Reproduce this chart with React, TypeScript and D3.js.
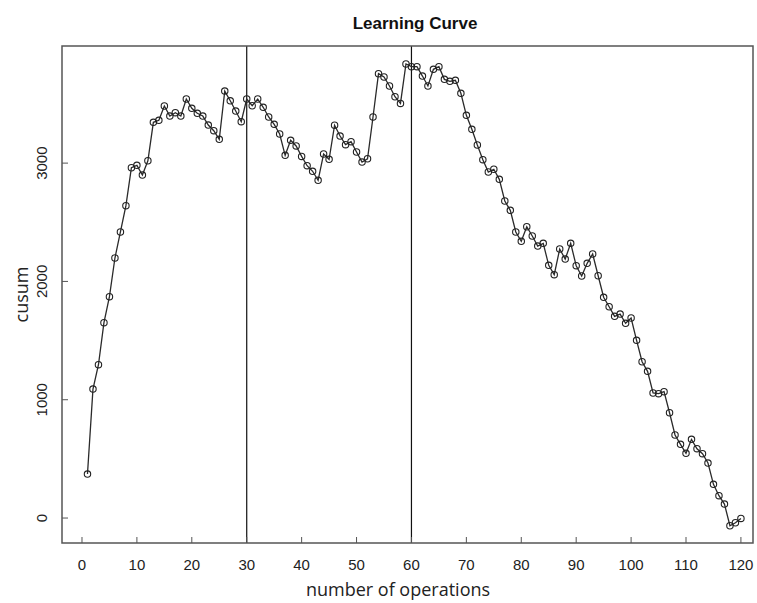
import React, { useEffect, useRef } from 'react';
import * as d3 from 'd3';

// cusum value for operation 1..120
const cusum = [
  372, 1090, 1296, 1651, 1871, 2198, 2418, 2640, 2961, 2981,
  2899, 3020, 3345, 3362, 3483, 3398, 3426, 3398, 3542, 3463,
  3421, 3398, 3322, 3274, 3201, 3609, 3527, 3440, 3350, 3542,
  3485, 3542, 3472, 3390, 3328, 3246, 3066, 3193, 3145, 3057,
  2978, 2931, 2855, 3077, 3032, 3320, 3229, 3156, 3181, 3094,
  3009, 3037, 3390, 3756, 3728, 3652, 3561, 3505, 3838, 3815,
  3815, 3736, 3652, 3793, 3815, 3708, 3691, 3700, 3590, 3404,
  3286, 3153, 3029, 2925, 2948, 2863, 2680, 2601, 2418, 2339,
  2462, 2384, 2299, 2322, 2136, 2057, 2274, 2189, 2322, 2133,
  2046, 2153, 2232, 2048, 1866, 1786, 1705, 1724, 1646, 1691,
  1502, 1321, 1240, 1057, 1051, 1068, 890, 702, 623, 547,
  665, 586, 544, 465, 285, 189, 118, -65, -40, -3,
];
const xTicks = [0, 10, 20, 30, 40, 50, 60, 70, 80, 90, 100, 110, 120];
const yTicks = [0, 1000, 2000, 3000];
const cutPoints = [30, 60];

const W = 757;
const H = 603;

const LearningCurve = () => {
  const ref = useRef(null);

  useEffect(() => {
    document.body.style.margin = '0';
    const svg = d3.select(ref.current);
    svg.selectAll('*').remove();
    svg.attr('width', W).attr('height', H);

    const left = 62, right = 753, top = 46, bottom = 543;
    const x = d3.scaleLinear().domain([-3.64, 122.2]).range([left, right]);
    const y = d3.scaleLinear().domain([-211, 3990]).range([bottom, top]);

    const data = cusum.map((v, i) => ({ n: i + 1, v }));

    svg
      .append('text')
      .attr('x', 415)
      .attr('y', 29)
      .attr('text-anchor', 'middle')
      .attr('font-family', 'Liberation Sans, Arial, sans-serif')
      .attr('font-weight', 'bold')
      .attr('font-size', 17)
      .attr('fill', '#111')
      .text('Learning Curve');

    // cut-off lines
    svg
      .selectAll('line.cut')
      .data(cutPoints)
      .enter()
      .append('line')
      .attr('class', 'cut')
      .attr('x1', (d) => x(d))
      .attr('x2', (d) => x(d))
      .attr('y1', top)
      .attr('y2', bottom)
      .attr('stroke', '#111')
      .attr('stroke-width', 1.2);

    const line = d3
      .line()
      .x((d) => x(d.n))
      .y((d) => y(d.v));

    svg
      .append('path')
      .datum(data)
      .attr('d', line)
      .attr('fill', 'none')
      .attr('stroke', '#2a2a2a')
      .attr('stroke-width', 1.3);

    svg
      .selectAll('circle')
      .data(data)
      .enter()
      .append('circle')
      .attr('cx', (d) => x(d.n))
      .attr('cy', (d) => y(d.v))
      .attr('r', 3.2)
      .attr('fill', 'none')
      .attr('stroke', '#222')
      .attr('stroke-width', 1.1);

    // frame
    svg
      .append('rect')
      .attr('x', left)
      .attr('y', top)
      .attr('width', right - left)
      .attr('height', bottom - top)
      .attr('fill', 'none')
      .attr('stroke', '#555')
      .attr('stroke-width', 1.5);

    // ticks point into the plot
    svg
      .selectAll('line.xt')
      .data(xTicks)
      .enter()
      .append('line')
      .attr('class', 'xt')
      .attr('x1', (d) => x(d))
      .attr('x2', (d) => x(d))
      .attr('y1', bottom)
      .attr('y2', bottom - 6)
      .attr('stroke', '#555');

    svg
      .selectAll('text.xt')
      .data(xTicks)
      .enter()
      .append('text')
      .attr('class', 'xt')
      .attr('x', (d) => x(d))
      .attr('y', 570)
      .attr('text-anchor', 'middle')
      .attr('font-family', 'Liberation Sans Narrow, Liberation Sans, sans-serif')
      .attr('font-size', 15)
      .attr('fill', '#222')
      .text((d) => d);

    svg
      .selectAll('line.yt')
      .data(yTicks)
      .enter()
      .append('line')
      .attr('class', 'yt')
      .attr('x1', left)
      .attr('x2', left + 6)
      .attr('y1', (d) => y(d))
      .attr('y2', (d) => y(d))
      .attr('stroke', '#555');

    svg
      .selectAll('text.yt')
      .data(yTicks)
      .enter()
      .append('text')
      .attr('class', 'yt')
      .attr('transform', (d) => `translate(47,${y(d)}) rotate(-90)`)
      .attr('text-anchor', 'middle')
      .attr('font-family', 'Liberation Sans Narrow, Liberation Sans, sans-serif')
      .attr('font-size', 15)
      .attr('fill', '#222')
      .text((d) => d);

    svg
      .append('text')
      .attr('x', 398)
      .attr('y', 596)
      .attr('text-anchor', 'middle')
      .attr('font-family', 'Open Sans, Noto Sans, sans-serif')
      .attr('font-size', 18)
      .attr('fill', '#222')
      .text('number of operations');

    svg
      .append('text')
      .attr('transform', `translate(28,${(top + bottom) / 2}) rotate(-90)`)
      .attr('text-anchor', 'middle')
      .attr('font-family', 'Open Sans, Noto Sans, sans-serif')
      .attr('font-size', 18)
      .attr('fill', '#222')
      .text('cusum');
  }, []);

  return <svg ref={ref}></svg>;
};

export default function App() {
  return <LearningCurve />;
}
